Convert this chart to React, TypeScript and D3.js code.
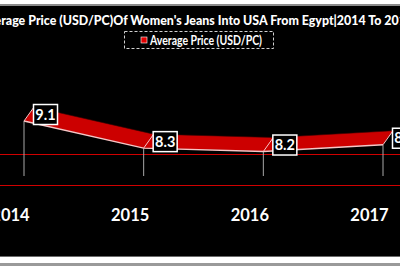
import React from "react";
import * as d3 from "d3";

const years = ["2014", "2015", "2016", "2017"];
const prices = [9.1, 8.3, 8.2, 8.4];
const labels = ["9.1", "8.3", "8.2", "8.4"];
const seriesName = "Average Price (USD/PC)";
const title = "Average Price (USD/PC)Of Women's Jeans Into USA From Egypt|2014 To 2018";

const W = 400;
const H = 266;
const FONT = "Lato, 'Open Sans', 'DejaVu Sans', sans-serif";

export default function App() {
  const x = d3.scalePoint<string>().domain(years).range([24, 383]);
  const y = d3.scaleLinear().domain([7, 10]).range([192.2, 90.5]);
  const depthX = 10;
  const depthY = -14;

  const front = years.map((yr, i) => [x(yr) as number, y(prices[i])] as [number, number]);
  const back = front.map(([a, b]) => [a + depthX, b + depthY] as [number, number]);
  const ribbon = [...front, ...back.slice().reverse()];
  const lineGen = d3.line<[number, number]>();

  return (
    <svg
      width={W}
      height={H}
      style={{ position: "absolute", left: 0, top: 0, display: "block" }}
    >
      <rect x={0} y={0} width={W} height={H} fill="#ffffff" />
      <rect x={0} y={4} width={W} height={2} fill="#8a8a8a" />
      <rect x={0} y={6} width={W} height={250} fill="#000000" />
      <rect x={0} y={256} width={W} height={1} fill="#6a6a6a" />
      <rect x={0} y={263} width={W} height={3} fill="#9a9a9a" />

      {/* title */}
      <text
        x={196.5}
        y={25}
        fill="#ffffff"
        fontFamily={FONT}
        fontWeight="900"
        fontSize={14}
        textAnchor="middle"
        textLength={433}
        lengthAdjust="spacingAndGlyphs"
      >
        {title}
      </text>

      {/* legend */}
      <rect
        x={124.5}
        y={31.5}
        width={149}
        height={17}
        fill="none"
        stroke="#d0d0d0"
        strokeWidth={1}
        strokeDasharray="3,2"
      />
      <rect x={141} y={37} width={6} height={6} fill="#e00000" stroke="#ffffff" strokeWidth={0.6} />
      <text
        x={150}
        y={44.8}
        fill="#ffffff"
        fontFamily={FONT}
        fontWeight="bold"
        fontSize={12.8}
        textLength={112}
        lengthAdjust="spacingAndGlyphs"
      >
        {seriesName}
      </text>

      {/* floor edges */}
      <line x1={0} x2={W} y1={154.5} y2={154.5} stroke="#d00000" strokeWidth={1} />
      <line x1={0} x2={W} y1={185.5} y2={185.5} stroke="#d00000" strokeWidth={1} />

      {/* drop lines */}
      {front.map(([px, py], i) => (
        <line key={"d" + i} x1={px} x2={px} y1={py} y2={176} stroke="#a8a8a8" strokeWidth={1} />
      ))}

      {/* ribbon */}
      <path d={lineGen(ribbon) + "Z"} fill="#cc0000" stroke="#3a0000" strokeWidth={0.6} />
      <path d={lineGen(front) || ""} fill="none" stroke="#f6c6c6" strokeWidth={1.4} />
      {front.map(([px, py], i) => (
        <line
          key={"j" + i}
          x1={px}
          y1={py}
          x2={px + depthX}
          y2={py + depthY}
          stroke="#f6c6c6"
          strokeWidth={1}
        />
      ))}

      {/* data labels */}
      {front.map(([px, py], i) => (
        <g key={"l" + i}>
          <rect
            x={px + 9.5}
            y={py - 16.5}
            width={24}
            height={20}
            fill="#000000"
            stroke="#ffffff"
            strokeWidth={1.5}
          />
          <text
            x={px + 21.5}
            y={py - 1.3}
            fill="#ffffff"
            fontFamily={FONT}
            fontWeight="bold"
            fontSize={14.5}
            textAnchor="middle"
          >
            {labels[i]}
          </text>
        </g>
      ))}

      {/* x axis labels */}
      {years.map((yr) => (
        <text
          key={"x" + yr}
          x={(x(yr) as number) - 13.5}
          y={220.5}
          fill="#ffffff"
          fontFamily={FONT}
          fontWeight="bold"
          fontSize={16.5}
          textAnchor="middle"
        >
          {yr}
        </text>
      ))}
    </svg>
  );
}
